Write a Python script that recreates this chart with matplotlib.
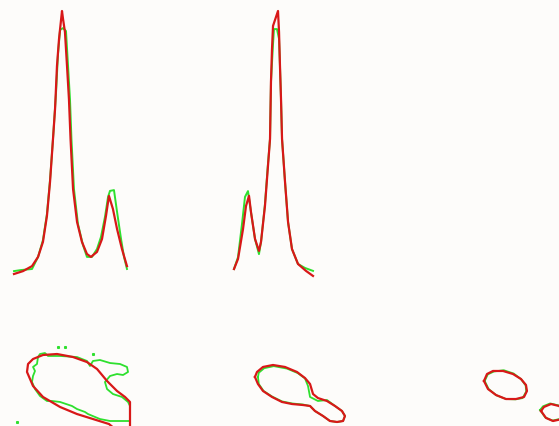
import matplotlib
matplotlib.use('Agg')
import matplotlib.pyplot as plt

# colours
GREEN = '#2ee02e'
RED = '#d81818'
BG = '#fdfcfa'

#### 1D marginals (x = parameter, y = normalised density) ####

# top left panel
tl_red_x = [0.0, 0.079, 0.158, 0.211, 0.254, 0.289, 0.316, 0.342, 0.360, 0.377, 0.395, 0.421,
            0.430, 0.447, 0.465, 0.482, 0.496, 0.518, 0.553, 0.596, 0.640, 0.675, 0.728, 0.772,
            0.807, 0.833, 0.868, 0.904, 0.947, 0.991]
tl_red_y = [0.0, 0.011, 0.030, 0.065, 0.122, 0.221, 0.350, 0.513, 0.627, 0.791, 0.894, 1.0,
            0.970, 0.920, 0.791, 0.665, 0.513, 0.323, 0.198, 0.122, 0.076, 0.065, 0.084, 0.133,
            0.221, 0.297, 0.247, 0.171, 0.095, 0.030]
tl_green_x = [0.0, 0.061, 0.158, 0.211, 0.254, 0.289, 0.316, 0.342, 0.368, 0.386, 0.404, 0.430,
              0.456, 0.474, 0.491, 0.504, 0.526, 0.561, 0.605, 0.640, 0.684, 0.728, 0.763, 0.798,
              0.825, 0.842, 0.877, 0.904, 0.939, 0.965, 0.991]
tl_green_y = [0.011, 0.015, 0.019, 0.065, 0.129, 0.228, 0.357, 0.513, 0.684, 0.837, 0.928, 0.935,
              0.924, 0.791, 0.665, 0.513, 0.323, 0.190, 0.110, 0.065, 0.065, 0.095, 0.141, 0.217,
              0.293, 0.316, 0.319, 0.236, 0.133, 0.065, 0.019]

# top middle panel
tm_red_x = [0.0, 0.051, 0.114, 0.152, 0.190, 0.215, 0.266, 0.316, 0.342, 0.392, 0.430, 0.456,
            0.468, 0.481, 0.494, 0.557, 0.570, 0.582, 0.595, 0.608, 0.646, 0.684, 0.734, 0.810,
            0.911, 1.0]
tm_red_y = [0.030, 0.068, 0.180, 0.267, 0.305, 0.244, 0.143, 0.098, 0.132, 0.267, 0.417, 0.519,
            0.733, 0.857, 0.944, 1.0, 0.921, 0.793, 0.669, 0.519, 0.357, 0.207, 0.105, 0.049,
            0.023, 0.004]
tm_green_x = [0.0, 0.051, 0.101, 0.139, 0.177, 0.215, 0.266, 0.316, 0.342, 0.392, 0.430, 0.456,
              0.468, 0.494, 0.506, 0.544, 0.570, 0.582, 0.595, 0.608, 0.646, 0.684, 0.734, 0.810,
              0.899, 1.0]
tm_green_y = [0.030, 0.075, 0.199, 0.301, 0.323, 0.244, 0.143, 0.086, 0.132, 0.274, 0.425, 0.519,
              0.733, 0.876, 0.932, 0.932, 0.895, 0.793, 0.669, 0.519, 0.357, 0.207, 0.105, 0.049,
              0.034, 0.023]

#### 2D contours ####

# bottom left panel
bl_red_x = [1.0, 1.0, 0.957, 0.888, 0.802, 0.716, 0.629, 0.509, 0.371, 0.250, 0.164, 0.121,
            0.112, 0.164, 0.250, 0.397, 0.543, 0.681, 0.819, 0.871]
bl_red_y = [-0.037, 0.293, 0.354, 0.427, 0.549, 0.695, 0.780, 0.841, 0.878, 0.866, 0.817, 0.756,
            0.659, 0.488, 0.354, 0.232, 0.146, 0.085, 0.024, -0.037]
bl_green_x = [1.0, 0.828, 0.741, 0.638, 0.612, 0.543, 0.500, 0.397, 0.328, 0.284, 0.224, 0.181,
              0.155, 0.164, 0.181, 0.164, 0.198, 0.207, 0.224, 0.267, 0.293, 0.397, 0.543, 0.629,
              0.655, 0.681, 0.741, 0.828, 0.914, 0.974, 0.983, 0.940, 0.888, 0.828, 0.784, 0.802,
              0.853, 0.931, 0.983, 1.0, 1.0]
bl_green_y = [0.061, 0.061, 0.085, 0.146, 0.171, 0.207, 0.244, 0.293, 0.305, 0.305, 0.366, 0.451,
              0.537, 0.610, 0.671, 0.720, 0.756, 0.841, 0.878, 0.890, 0.854, 0.854, 0.841, 0.793,
              0.732, 0.793, 0.805, 0.768, 0.756, 0.720, 0.659, 0.622, 0.634, 0.610, 0.537, 0.451,
              0.390, 0.354, 0.293, 0.244, 0.061]
bl_dots_x = [0.379, 0.440, 0.026, 0.681]
bl_dots_y = [0.963, 0.963, 0.049, 0.878]

# bottom middle panel
bm_red_x = [0.208, 0.225, 0.275, 0.358, 0.458, 0.558, 0.625, 0.667, 0.692, 0.733, 0.808, 0.875,
            0.933, 0.958, 0.942, 0.892, 0.833, 0.775, 0.708, 0.667, 0.608, 0.517, 0.433, 0.350,
            0.275, 0.233, 0.208]
bm_red_y = [0.598, 0.659, 0.720, 0.744, 0.720, 0.659, 0.585, 0.512, 0.390, 0.341, 0.305, 0.244,
            0.183, 0.122, 0.061, 0.049, 0.061, 0.122, 0.183, 0.244, 0.256, 0.268, 0.293, 0.354,
            0.427, 0.512, 0.598]
bm_green_x = [0.233, 0.240, 0.285, 0.365, 0.475, 0.565, 0.625, 0.650, 0.667, 0.733, 0.808, 0.875,
              0.933, 0.958, 0.942, 0.892, 0.833, 0.775, 0.708, 0.667, 0.608, 0.517, 0.433, 0.350,
              0.280, 0.240, 0.233]
bm_green_y = [0.598, 0.650, 0.705, 0.730, 0.700, 0.645, 0.580, 0.488, 0.354, 0.305, 0.317, 0.244,
              0.183, 0.122, 0.061, 0.049, 0.061, 0.122, 0.183, 0.244, 0.262, 0.275, 0.300, 0.360,
              0.427, 0.512, 0.598]

# bottom right panel
br_red_x = [0.157, 0.191, 0.258, 0.371, 0.483, 0.573, 0.629, 0.640, 0.607, 0.517, 0.404, 0.292,
            0.202, 0.157]
br_red_y = [0.549, 0.634, 0.671, 0.671, 0.634, 0.573, 0.500, 0.427, 0.354, 0.329, 0.329, 0.378,
            0.451, 0.549]
br_green_x = [0.165, 0.200, 0.270, 0.380, 0.490, 0.575, 0.625, 0.632, 0.590, 0.510, 0.404, 0.295,
              0.210, 0.165]
br_green_y = [0.549, 0.630, 0.665, 0.680, 0.640, 0.570, 0.495, 0.420, 0.340, 0.325, 0.329, 0.375,
              0.450, 0.549]
br2_red_x = [0.798, 0.831, 0.910, 1.0, 1.067, 1.034, 0.933, 0.854, 0.798]
br2_red_y = [0.183, 0.232, 0.268, 0.244, 0.183, 0.085, 0.061, 0.098, 0.183]
br2_green_x = [0.787, 0.820, 0.900, 1.0, 1.060, 1.030, 0.925, 0.845, 0.787]
br2_green_y = [0.195, 0.240, 0.275, 0.250, 0.190, 0.090, 0.066, 0.105, 0.195]

W, H = 559, 427
fig = plt.figure(figsize=(W / 100, H / 100), dpi=100, facecolor=BG)


def panel(left, top, right, bottom):
    # box given in pixels from the top left corner of the figure
    ax = fig.add_axes([left / W, 1 - bottom / H, (right - left) / W, (bottom - top) / H])
    ax.set_xlim(0, 1)
    ax.set_ylim(0, 1)
    ax.axis('off')
    return ax


ax1 = panel(14, 12, 128, 275)
ax1.plot(tl_green_x, tl_green_y, color=GREEN, lw=1.4, clip_on=False)
ax1.plot(tl_red_x, tl_red_y, color=RED, lw=1.6, clip_on=False)

ax2 = panel(234, 12, 313, 278)
ax2.plot(tm_green_x, tm_green_y, color=GREEN, lw=1.4, clip_on=False)
ax2.plot(tm_red_x, tm_red_y, color=RED, lw=1.6, clip_on=False)

ax3 = panel(14, 345, 130, 427)
ax3.plot(bl_green_x, bl_green_y, color=GREEN, lw=1.3, clip_on=False)
ax3.plot(bl_dots_x, bl_dots_y, 's', color=GREEN, ms=1.2, clip_on=False)
ax3.plot(bl_red_x, bl_red_y, color=RED, lw=1.6, clip_on=False)

ax4 = panel(230, 345, 350, 427)
ax4.plot(bm_green_x, bm_green_y, color=GREEN, lw=1.3, clip_on=False)
ax4.plot(bm_red_x, bm_red_y, color=RED, lw=1.6, clip_on=False)

ax5 = panel(470, 345, 559, 427)
ax5.plot(br_green_x, br_green_y, color=GREEN, lw=1.3, clip_on=False)
ax5.plot(br2_green_x, br2_green_y, color=GREEN, lw=1.3, clip_on=False)
ax5.plot(br_red_x, br_red_y, color=RED, lw=1.6, clip_on=False)
ax5.plot(br2_red_x, br2_red_y, color=RED, lw=1.6, clip_on=False)

fig.savefig('out.png', dpi=100, facecolor=BG)
